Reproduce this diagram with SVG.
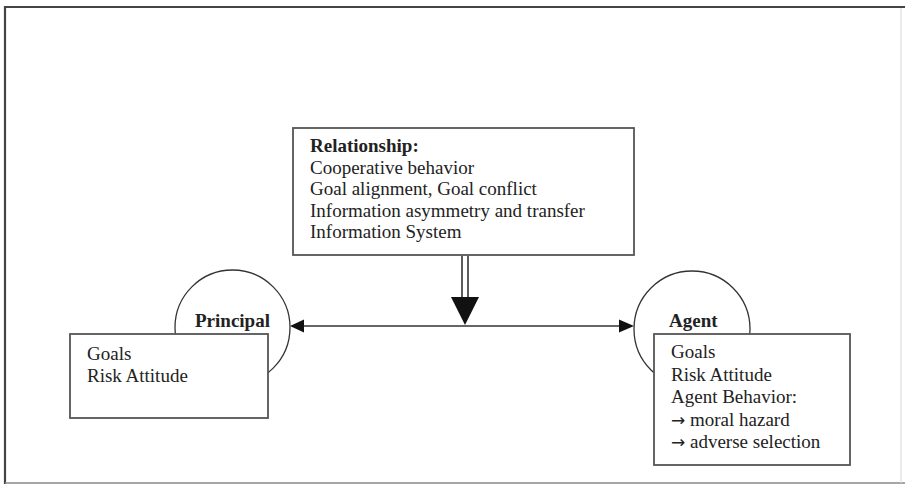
<svg xmlns="http://www.w3.org/2000/svg" width="910" height="486" viewBox="0 0 910 486">
<style>
.box{fill:#fff;stroke:#555;stroke-width:1.8}
.circ{fill:#fff;stroke:#333;stroke-width:1.3}
.t{font-family:"Liberation Serif","Times New Roman",serif;font-size:19px;fill:#222}
.b{font-weight:bold}
.ar{font-family:"DejaVu Sans",sans-serif;font-size:17px}
.ln{stroke:#333;stroke-width:1.6;fill:none}
</style>
<rect x="0" y="0" width="910" height="486" fill="#fff"/>
<g id="frame">
<line x1="5" y1="7" x2="905" y2="7" stroke="#444" stroke-width="2.2"/>
<line x1="5" y1="6" x2="5" y2="484" stroke="#444" stroke-width="2.2"/>
<line x1="5" y1="483" x2="905" y2="483" stroke="#888" stroke-width="1.5"/>
<line x1="901" y1="8" x2="901" y2="483" stroke="#ddd" stroke-width="1.2"/>
</g>
<g id="connectors">
<line class="ln" x1="298" y1="326" x2="622" y2="326"/>
<polygon points="290,326 304,319.5 304,332.5" fill="#111"/>
<polygon points="634,326 619,319.5 619,332.5" fill="#111"/>
<line class="ln" x1="462" y1="256" x2="462" y2="298"/>
<line class="ln" x1="468" y1="256" x2="468" y2="298"/>
<polygon points="451,297 479,297 465,325" fill="#111"/>
</g>
<g id="relationship">
<rect class="box" x="293" y="128" width="341" height="127"/>
<text class="t b" x="310" y="152">Relationship:</text>
<text class="t" x="310" y="173.5">Cooperative behavior</text>
<text class="t" x="310" y="195">Goal alignment, Goal conflict</text>
<text class="t" x="310" y="216.5">Information asymmetry and transfer</text>
<text class="t" x="310" y="238">Information System</text>
</g>
<g id="principal">
<circle class="circ" cx="232.5" cy="327.5" r="57.5"/>
<text class="t b" x="195" y="327">Principal</text>
<rect class="box" x="70" y="334" width="198" height="84"/>
<text class="t" x="87" y="360">Goals</text>
<text class="t" x="87" y="382">Risk Attitude</text>
</g>
<g id="agent">
<circle class="circ" cx="692" cy="329" r="58"/>
<text class="t b" x="669" y="327">Agent</text>
<rect class="box" x="654" y="334" width="196" height="131"/>
<text class="t" x="671" y="358">Goals</text>
<text class="t" x="671" y="380.5">Risk Attitude</text>
<text class="t" x="671" y="403">Agent Behavior:</text>
<text class="t" x="671" y="425.5"><tspan class="ar">→</tspan> moral hazard</text>
<text class="t" x="671" y="448"><tspan class="ar">→</tspan> adverse selection</text>
</g>
</svg>
